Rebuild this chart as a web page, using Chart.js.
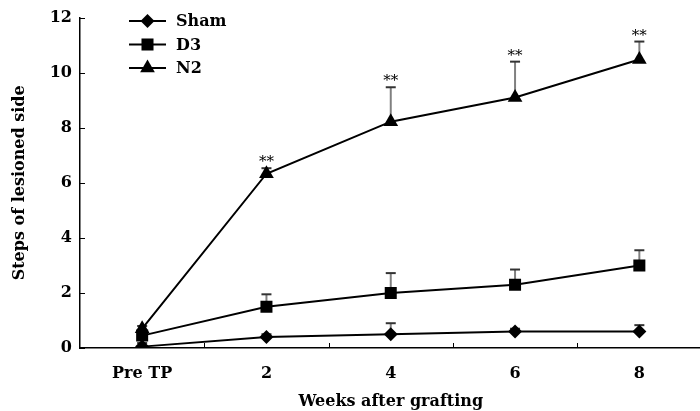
<!DOCTYPE html>
<html>
<head>
<meta charset="utf-8">
<script src="https://cdn.jsdelivr.net/npm/chart.js@4"></script>
<style>
  html, body { margin: 0; padding: 0; background: #fff; overflow: hidden; }
  canvas { display: block; }
</style>
</head>
<body>
<canvas id="stepChart" width="710" height="411"></canvas>
<script>
// weeks after grafting
const weeks = ['Pre TP', '2', '4', '6', '8'];
const yTicks = [0, 2, 4, 6, 8, 10, 12];

// mean steps of lesioned side
const sham = [0.05, 0.4, 0.5, 0.6, 0.6];
const d3 = [0.45, 1.5, 2.0, 2.3, 3.0];
const n2 = [0.7, 6.33, 8.22, 9.1, 10.48];

// SD (upper bar only)
const shamErr = [0.13, 0.1, 0.4, 0.1, 0.23];
const d3Err = [0.1, 0.45, 0.72, 0.55, 0.55];
const n2Err = [0.1, 0.2, 1.25, 1.3, 0.65];

// significance marks over N2
const n2Sig = ['', '**', '**', '**', '**'];

const serif = '"DejaVu Serif", "Liberation Serif", serif';
const ctx = document.getElementById('stepChart').getContext('2d');

// inward tick marks and upper error bars go under the lines,
// ** marks and the legend box go on top
const extrasPlugin = {
    id: 'extras',
    beforeDatasetsDraw(chart) {
        const c = chart.ctx;
        const xs = chart.scales.x;
        const ys = chart.scales.y;
        const area = chart.chartArea;
        c.save();

        c.strokeStyle = '#000';
        c.lineWidth = 1;
        yTicks.forEach(v => {
            const py = Math.round(ys.getPixelForValue(v)) + 0.5;
            c.beginPath();
            c.moveTo(area.left, py);
            c.lineTo(area.left + 5, py);
            c.stroke();
        });
        for (let i = 1; i < weeks.length; i++) {
            const px = Math.round((xs.getPixelForValue(i - 1) + xs.getPixelForValue(i)) / 2) + 0.5;
            c.beginPath();
            c.moveTo(px, area.bottom);
            c.lineTo(px, area.bottom - 5);
            c.stroke();
        }

        chart.data.datasets.forEach(ds => {
            ds.errors.forEach((e, i) => {
                const px = xs.getPixelForValue(i);
                const top = ys.getPixelForValue(ds.data[i] + e);
                const mid = ys.getPixelForValue(ds.data[i]);
                c.strokeStyle = '#808080';
                c.lineWidth = 2;
                c.beginPath();
                c.moveTo(px, mid);
                c.lineTo(px, top);
                c.stroke();
                c.strokeStyle = '#333';
                c.beginPath();
                c.moveTo(px - 5, top);
                c.lineTo(px + 5, top);
                c.stroke();
            });
        });
        c.restore();
    },
    afterDatasetsDraw(chart) {
        const c = chart.ctx;
        const xs = chart.scales.x;
        const ys = chart.scales.y;
        c.save();

        // significance stars
        c.fillStyle = '#000';
        c.font = '15px ' + serif;
        c.textAlign = 'center';
        c.textBaseline = 'alphabetic';
        n2Sig.forEach((s, i) => {
            if (!s) return;
            const px = xs.getPixelForValue(i);
            const top = ys.getPixelForValue(n2[i] + n2Err[i]);
            c.fillText(s, px, top - 2);
        });

        // legend
        c.textAlign = 'left';
        c.textBaseline = 'middle';
        c.font = 'bold 16px ' + serif;
        chart.data.datasets.forEach((ds, k) => {
            const ly = 21 + k * 23.5;
            c.strokeStyle = '#000';
            c.lineWidth = 2;
            c.beginPath();
            c.moveTo(129, ly);
            c.lineTo(166, ly);
            c.stroke();
            c.fillStyle = '#000';
            Chart.helpers.drawPoint(c, {
                pointStyle: ds.pointStyle,
                radius: ds.pointRadius,
                borderWidth: 0
            }, 147.5, ly);
            c.fillText(ds.label, 176, ly + 1);
        });
        c.restore();
    }
};

function series(label, data, errors, style, radius) {
    return {
        label: label,
        data: data,
        errors: errors,
        borderColor: '#000',
        backgroundColor: '#000',
        borderWidth: 2,
        pointStyle: style,
        pointRadius: radius,
        pointBorderWidth: 0,
        pointBackgroundColor: '#000',
        tension: 0
    };
}

const stepChart = new Chart(ctx, {
    type: 'line',
    data: {
        labels: weeks,
        datasets: [
            series('Sham', sham, shamErr, 'rectRot', 7),
            series('D3', d3, d3Err, 'rect', 8.5),
            series('N2', n2, n2Err, 'triangle', 8.5)
        ]
    },
    options: {
        responsive: false,
        animation: false,
        layout: { padding: { top: 17, right: 5, bottom: 0, left: 0 } },
        plugins: {
            legend: { display: false },
            tooltip: { enabled: false }
        },
        scales: {
            x: {
                type: 'category',
                offset: true,
                grid: { display: false, drawTicks: false },
                border: { display: true, color: '#000', width: 1.5 },
                ticks: {
                    color: '#000',
                    padding: 16,
                    font: { family: serif, size: 16, weight: 'bold' }
                },
                title: {
                    display: true,
                    text: 'Weeks after grafting',
                    color: '#000',
                    padding: { top: 4, bottom: 0 },
                    font: { family: serif, size: 16, weight: 'bold' }
                },
                afterFit(scale) { scale.height = 63; }
            },
            y: {
                min: 0,
                max: 12,
                afterBuildTicks(scale) {
                    scale.ticks = yTicks.map(v => ({ value: v }));
                },
                grid: { display: false, drawTicks: false },
                border: { display: true, color: '#000', width: 1.5 },
                ticks: {
                    color: '#000',
                    padding: 8,
                    font: { family: serif, size: 16, weight: 'bold' }
                },
                title: {
                    display: true,
                    text: 'Steps of lesioned side',
                    color: '#000',
                    padding: { top: 10, bottom: 4 },
                    font: { family: serif, size: 16, weight: 'bold' }
                },
                afterFit(scale) { scale.width = 80; }
            }
        }
    },
    plugins: [extrasPlugin]
});
</script>
</body>
</html>
